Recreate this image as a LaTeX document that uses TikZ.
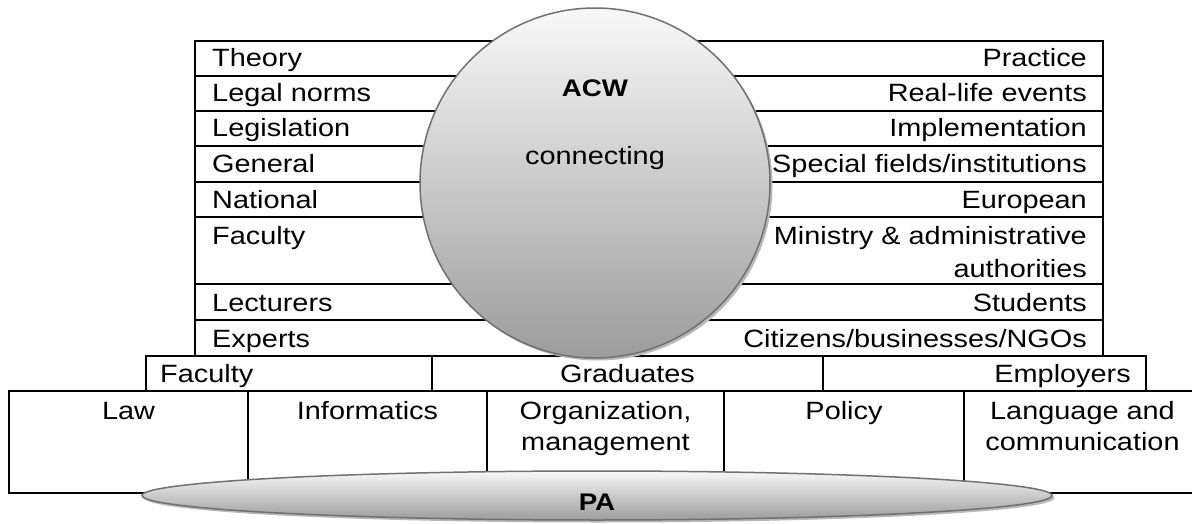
\documentclass[tikz,border=0pt]{standalone}
\usepackage{fontspec}
\setmainfont{Liberation Sans}[FakeStretch=1.155]
\usetikzlibrary{shapes.geometric,shadows}
\definecolor{rimgray}{HTML}{707070}
\definecolor{lightshade}{HTML}{F8F8F8}
\definecolor{darkshade}{HTML}{9C9C9C}
\definecolor{shadowgray}{HTML}{B8B8B8}
\begin{document}
\begin{tikzpicture}[x=1pt,y=-1pt,
  rule/.style={line width=1.5pt, black},
  txt/.style={inner sep=0pt, font=\fontsize{25}{31}\selectfont},
  lt/.style={txt, anchor=base west},
  rt/.style={txt, anchor=base east},
  ct/.style={txt, anchor=base, align=center},
  bold/.style={txt, anchor=base, font=\fontsize{24}{31}\selectfont\bfseries},
  glassy/.style={draw=rimgray, line width=1.5pt, top color=lightshade, bottom color=darkshade,
    drop shadow={shadow xshift=2.5pt, shadow yshift=-2.5pt, fill=shadowgray, opacity=1}}
]
\useasboundingbox (0,0) rectangle (1192,524);

% upper two-column table
\draw[rule] (195,41) rectangle (1103,356);
\foreach \y in {76,111,146,182,217,284,320}
  \draw[rule] (195,\y) -- (1103,\y);

% stakeholder row
\draw[rule] (146,356) rectangle (1146,391);
\draw[rule] (432,356) -- (432,391);
\draw[rule] (823,356) -- (823,391);

% disciplines row (open to the right)
\draw[rule] (1205,391) -- (9,391) -- (9,493) -- (1205,493);
\foreach \x in {248,487,724,964}
  \draw[rule] (\x,391) -- (\x,493);

% left column
\node[lt] (theory)   at (212,67)  {Theory};
\node[lt] (norms)    at (212,102) {Legal norms};
\node[lt] (legis)    at (212,137) {Legislation};
\node[lt] (general)  at (212,173) {General};
\node[lt] (national) at (212,208) {National};
\node[lt] (faculty)  at (212,244) {Faculty};
\node[lt] (lecturer) at (212,311) {Lecturers};
\node[lt] (experts)  at (212,347) {Experts};

% right column
\node[rt] (practice) at (1087,67)  {Practice};
\node[rt] (events)   at (1087,102) {Real-life events};
\node[rt] (impl)     at (1087,137) {Implementation};
\node[rt] (special)  at (1087,173) {Special fields/institutions};
\node[rt] (european) at (1087,208) {European};
\node[rt] (ministry) at (1087,244) {Ministry \& administrative};
\node[rt] (authority) at (1087,277) {authorities};
\node[rt] (students) at (1087,311) {Students};
\node[rt] (citizens) at (1087,347) {Citizens/businesses/NGOs};

% stakeholder row texts
\node[lt] (facrow)    at (160,382)  {Faculty};
\node[ct] (graduates) at (627.5,382) {Graduates};
\node[rt] (employers) at (1131,382) {Employers};

% disciplines (two-line cells are anchored on their last line)
\node[ct] (law)    at (128.5,419) {Law};
\node[ct] (inform) at (367.5,419) {Informatics};
\node[ct] (org)    at (605.5,450) {Organization,\\management};
\node[ct] (policy) at (844,419)   {Policy};
\node[ct] (lang)   at (1082.5,450) {Language and\\communication};

% connecting sphere
\node[glassy, circle, minimum size=350pt, inner sep=0pt] (sphere) at (595,183) {};
\node[bold] (acw) at (595,97) {ACW};
\node[ct] (conn) at (595,165) {connecting};

% base disc
\node[glassy, ellipse, minimum width=910pt, minimum height=49pt, inner sep=0pt] (base) at (597,495.5) {};
\node[bold] (pa) at (597,510) {PA};
\end{tikzpicture}
\end{document}
